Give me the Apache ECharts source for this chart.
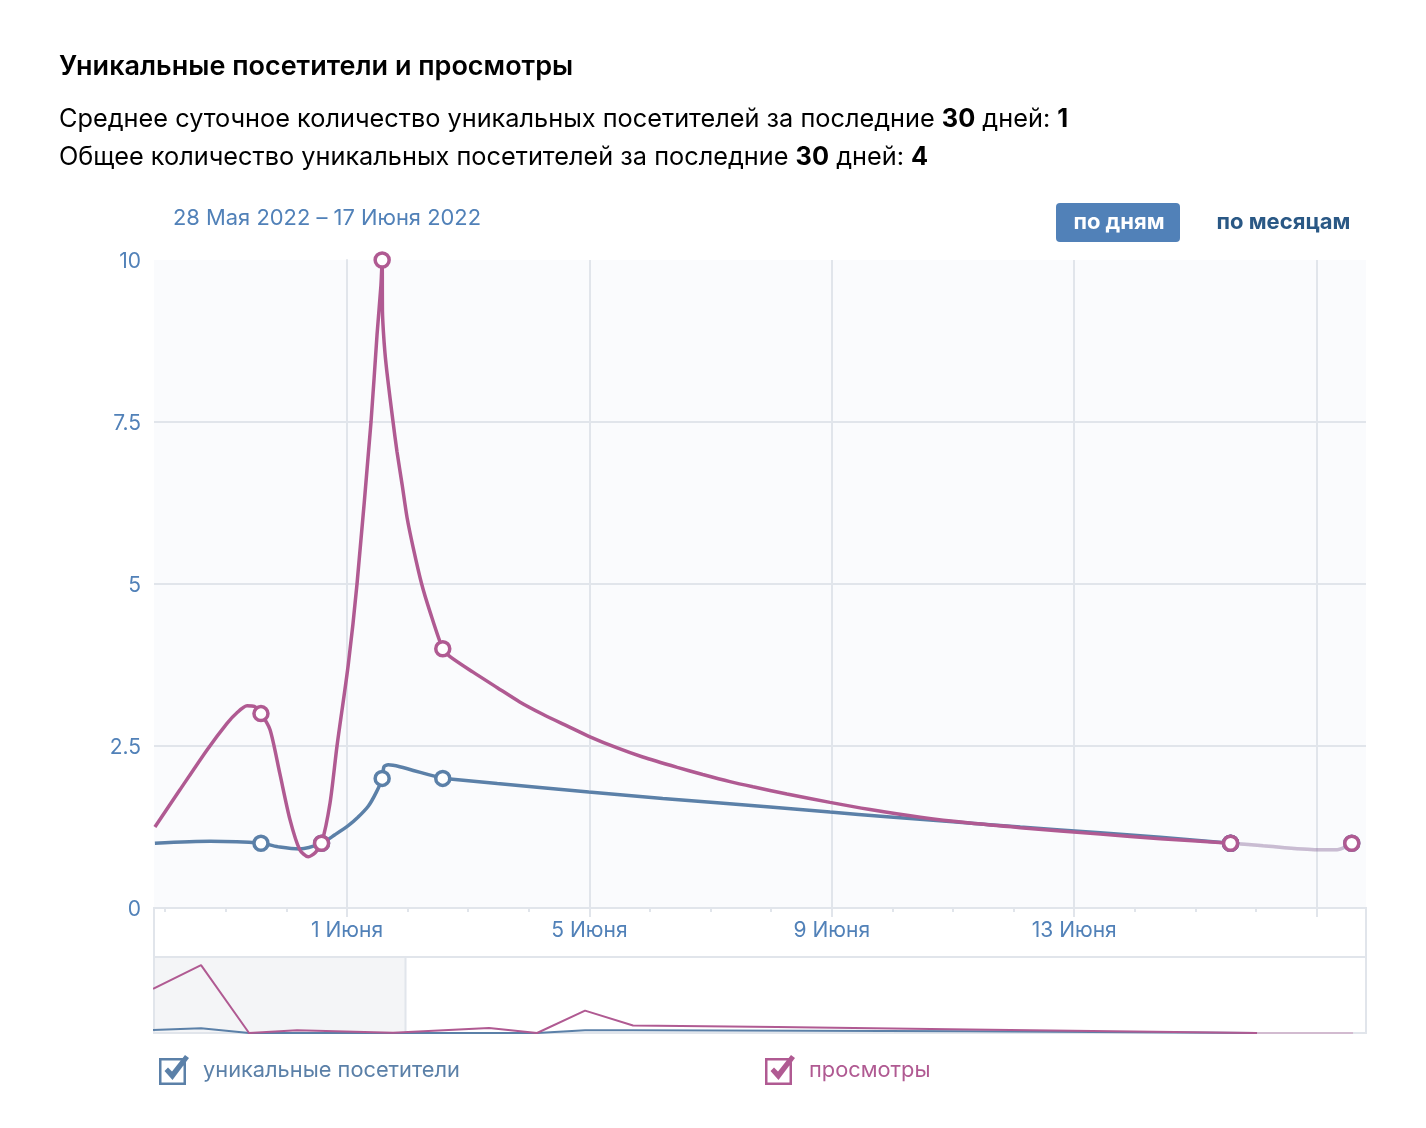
<!DOCTYPE html>
<html>
<head>
<meta charset="utf-8">
<style>
  html, body { margin: 0; background: #fff; }
  #main { width: 1426px; height: 1128px; }
</style>
<script src="https://cdn.jsdelivr.net/npm/echarts@6/dist/echarts.min.js"></script>
</head>
<body>
<div id="main"></div>
<script>
// x axis: days counted from 1 June
const xMin = -3.185
const xMax = 16.815
const dayTicks = [-3, -2, -1, 0, 1, 2, 3, 4, 5, 6, 7, 8, 9, 10, 11, 12, 13, 14, 15, 16]
const labelDays = [0, 4, 8, 12]
const gridDays = [0, 4, 8, 12, 16]

// days that carry a round marker
const markerDays = [-1.42, -0.42, 0.58, 1.58, 14.58, 16.58]

// curves, [day, value]
const visitors = [
  [-3.17, 1.0], [-2.26, 1.03], [-1.42, 1], [-1.11, 0.94], [-0.78, 0.91], [-0.42, 1],
  [-0.2, 1.13], [0.02, 1.27], [0.18, 1.4], [0.35, 1.57], [0.48, 1.78], [0.58, 2],
  [0.61, 2.18], [0.68, 2.21], [0.87, 2.18], [1.58, 2], [1.7, 1.99], [2.48, 1.92],
  [3.18, 1.86], [3.99, 1.79], [5.21, 1.69], [6.16, 1.62], [6.98, 1.56], [7.97, 1.48],
  [8.91, 1.41], [10.0, 1.33], [11.11, 1.25], [12.43, 1.16], [13.42, 1.09], [14.58, 1]
]
const views = [
  [-3.17, 1.25], [-2.76, 1.82], [-2.31, 2.44], [-1.98, 2.85], [-1.82, 3.01], [-1.65, 3.12],
  [-1.53, 3.11], [-1.42, 3], [-1.27, 2.75], [-1.11, 2.08], [-0.94, 1.36], [-0.78, 0.9],
  [-0.64, 0.79], [-0.53, 0.85], [-0.42, 1], [-0.28, 1.62], [-0.165, 2.5], [0.02, 3.75],
  [0.165, 5], [0.396, 7.5], [0.495, 8.84], [0.56, 9.61], [0.58, 10], [0.585, 9.2],
  [0.6, 8.9], [0.627, 8.56], [0.66, 8.26], [0.71, 7.87], [0.76, 7.5], [0.825, 7.04], [0.91, 6.53],
  [0.99, 6.03], [1.09, 5.57], [1.232, 5], [1.37, 4.57], [1.58, 4], [1.7, 3.88],
  [2.08, 3.64], [2.48, 3.4], [2.85, 3.18], [3.23, 2.99], [3.63, 2.81], [3.99, 2.65],
  [4.46, 2.47], [4.88, 2.33], [5.45, 2.17], [5.87, 2.06], [6.32, 1.95], [6.7, 1.87],
  [7.26, 1.76], [7.97, 1.63], [8.63, 1.52], [9.46, 1.4], [10.28, 1.31], [11.11, 1.24],
  [12.43, 1.14], [13.42, 1.07], [14.58, 1]
]
// last stretch is drawn faded in the original
const tail = [[14.58, 1], [15.12, 0.96], [16.01, 0.9], [16.34, 0.9], [16.58, 1]]

// overview strip, [step, value]
const miniVisitors = [[0, 0.45], [1, 0.7], [2, 0], [8, 0], [9, 0.4], [10, 0.42], [17, 0.25], [23, 0]]
const miniViews = [
  [0, 6.5], [1, 10], [2, 0], [3, 0.4], [5, 0.05], [7, 0.75], [8, 0], [9, 3.3], [10, 1.1],
  [13, 0.9], [17, 0.5], [20, 0.25], [23, 0]
]
const miniTail = [[23, 0], [25, 0]]
const miniStart = 0.02
const miniEnd = 25.27
const miniWindowEnd = 5.26

const BLUE = '#5b80a8'
const PURPLE = '#b05a92'
const LINK = '#5181b8'
const RULE = '#e1e5eb'
const FONT = 'Inter, "Noto Sans", sans-serif'
const CHECK = 'path://M0 3H27V30H0ZM2.5 5.5V27.5H24.5V5.5ZM5.5 16L9 12.5L13 16.5L26 0L30 3L13.5 25Z'

const markerSymbol = function (val) {
  return markerDays.includes(val[0]) ? 'circle' : 'none'
}

function mainLine (name, color, data, z, opacity) {
  return {
    name: name,
    type: 'line',
    data: data,
    smooth: 0.25,
    showAllSymbol: true,
    symbol: markerSymbol,
    symbolSize: 14,
    z: z,
    clip: false,
    animation: false,
    lineStyle: { color: color, width: 3.5, opacity: opacity },
    itemStyle: { color: '#fff', borderColor: color, borderWidth: 3.5, opacity: 1 }
  }
}

function miniLine (name, color, data, z, opacity) {
  return {
    name: name,
    type: 'line',
    xAxisIndex: 2,
    yAxisIndex: 1,
    data: data,
    symbol: 'none',
    z: z,
    animation: false,
    lineStyle: { color: color, width: 2, opacity: opacity },
    itemStyle: { color: color }
  }
}

const viewsMini = miniLine('просмотры', PURPLE, miniViews, 4, 1)
viewsMini.markArea = {
  silent: true,
  itemStyle: { color: '#f4f5f7', borderColor: RULE, borderWidth: 2 },
  data: [[{ xAxis: miniStart }, { xAxis: miniWindowEnd }]]
}

const lineRich = {
  n: { fontFamily: FONT, fontSize: 25.3, fontWeight: 400, color: '#000' },
  b: { fontFamily: FONT, fontSize: 25.3, fontWeight: 700, color: '#000' }
}

const chart = echarts.init(document.getElementById('main'))
chart.setOption({
  animation: false,
  backgroundColor: '#fff',
  textStyle: { fontFamily: FONT },
  title: [
    {
      text: 'Уникальные посетители и просмотры',
      left: 59, top: 53, padding: 0,
      textStyle: { fontFamily: FONT, fontSize: 27, fontWeight: 600, color: '#000' }
    },
    {
      text: '{n|Среднее суточное количество уникальных посетителей за последние }{b|30}{n| дней: }{b|1}',
      left: 59, top: 107, padding: 0,
      textStyle: { rich: lineRich }
    },
    {
      text: '{n|Общее количество уникальных посетителей за последние }{b|30}{n| дней: }{b|4}',
      left: 59, top: 145, padding: 0,
      textStyle: { rich: lineRich }
    },
    {
      text: '28 Мая 2022 – 17 Июня 2022',
      left: 173, top: 207, padding: 0,
      textStyle: { fontFamily: FONT, fontSize: 21.9, fontWeight: 400, color: LINK }
    }
  ],
  graphic: [
    { type: 'rect', shape: { x: 1056, y: 203, width: 124, height: 39, r: 4 }, style: { fill: LINK } },
    { type: 'text', x: 1119, y: 222, style: { text: 'по дням', fill: '#fff', font: '700 22px ' + FONT, align: 'center', verticalAlign: 'middle' } },
    { type: 'text', x: 1283.5, y: 222, style: { text: 'по месяцам', fill: '#2a5885', font: '700 22px ' + FONT, align: 'center', verticalAlign: 'middle' } },
    { type: 'rect', shape: { x: 154, y: 908, width: 1212, height: 49 }, style: { fill: 'none', stroke: RULE, lineWidth: 2 } }
  ],
  grid: [
    { left: 154, top: 260, width: 1212, height: 648, show: true, backgroundColor: '#fafbfd', borderWidth: 0 },
    { left: 154, top: 957, width: 1212, height: 76, show: true, backgroundColor: '#fff', borderColor: RULE, borderWidth: 2 }
  ],
  xAxis: [
    {
      type: 'value', gridIndex: 0, min: xMin, max: xMax, position: 'bottom',
      axisLine: { show: true, onZero: false, lineStyle: { color: RULE, width: 2 } },
      axisTick: { show: true, length: 4, customValues: dayTicks, lineStyle: { color: RULE, width: 2 } },
      axisLabel: {
        show: true, customValues: labelDays, margin: 12, fontSize: 21, color: LINK,
        formatter: function (d) { return (d + 1) + ' Июня' }
      },
      splitLine: { show: false }
    },
    {
      type: 'value', gridIndex: 0, min: xMin, max: xMax, position: 'bottom',
      axisLine: { show: false, onZero: false },
      axisTick: { show: true, length: 9, customValues: gridDays, lineStyle: { color: RULE, width: 2 } },
      axisLabel: { show: false },
      splitLine: { show: true, lineStyle: { color: RULE, width: 2 } }
    },
    {
      type: 'value', gridIndex: 1, min: miniStart, max: miniEnd,
      axisLine: { show: false }, axisTick: { show: false }, axisLabel: { show: false }, splitLine: { show: false }
    }
  ],
  yAxis: [
    {
      type: 'value', gridIndex: 0, min: 0, max: 10, interval: 2.5,
      axisLine: { show: true, lineStyle: { color: RULE, width: 2 } },
      axisTick: { show: false },
      axisLabel: {
        margin: 13,
        formatter: function (v) { return '{a|' + v + '}' },
        rich: { a: { fontFamily: FONT, fontSize: 21, color: LINK, padding: [4, 0, 0, 0] } }
      },
      splitLine: { show: true, showMaxLine: false, lineStyle: { color: RULE, width: 2 } }
    },
    {
      type: 'value', gridIndex: 1, min: 0, max: 11.2,
      axisLine: { show: false }, axisTick: { show: false }, axisLabel: { show: false }, splitLine: { show: false }
    }
  ],
  legend: [
    {
      left: 159, top: 1055, padding: 0, itemWidth: 30, itemHeight: 30, itemGap: 0, selectedMode: false,
      data: [{ name: 'уникальные посетители', icon: CHECK, itemStyle: { color: BLUE, borderWidth: 0 }, lineStyle: { width: 0, opacity: 0 } }],
      textStyle: { fontFamily: FONT, fontSize: 21.8, color: BLUE, padding: [0, 0, 0, 9] }
    },
    {
      left: 765, top: 1055, padding: 0, itemWidth: 30, itemHeight: 30, itemGap: 0, selectedMode: false,
      data: [{ name: 'просмотры', icon: CHECK, itemStyle: { color: PURPLE, borderWidth: 0 }, lineStyle: { width: 0, opacity: 0 } }],
      textStyle: { fontFamily: FONT, fontSize: 21.8, color: PURPLE, padding: [0, 0, 0, 9] }
    }
  ],
  series: [
    mainLine('уникальные посетители', BLUE, visitors, 5, 1),
    mainLine('просмотры', PURPLE, views, 6, 1),
    mainLine('посетители, конец', BLUE, tail, 4, 0.25),
    mainLine('просмотры, конец', PURPLE, tail, 4, 0.25),
    miniLine('уникальные посетители', BLUE, miniVisitors, 3, 1),
    viewsMini,
    miniLine('просмотры, хвост', PURPLE, miniTail, 2, 0.3)
  ]
})
</script>
</body>
</html>
